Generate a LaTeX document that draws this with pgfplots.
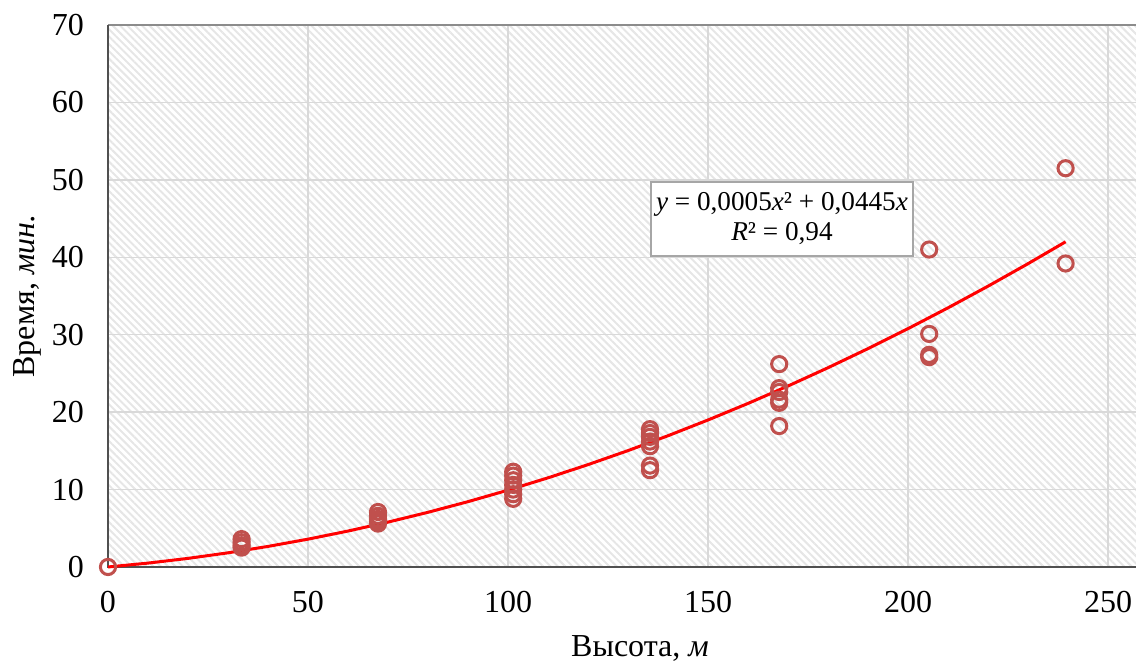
\documentclass[border=0pt]{standalone}
\usepackage{fontspec}
\setmainfont{Liberation Serif}
\usepackage{pgfplots}
\pgfplotsset{compat=1.18}
\usetikzlibrary{patterns.meta}

\definecolor{pointred}{HTML}{C0504D}
\definecolor{gridgray}{HTML}{D9D9D9}
\definecolor{hatch}{HTML}{E6E6E6}
\definecolor{axisdark}{HTML}{505050}
\definecolor{topgray}{HTML}{8C8C8C}
\definecolor{boxgray}{HTML}{A6A6A6}

\newcommand{\fs}{\fontsize{16}{19}\selectfont}
\newcommand{\eqfs}{\fontsize{13.6}{15}\selectfont}

\begin{document}
\begin{tikzpicture}
\begin{axis}[
    name=ax,
    scale only axis,
    width=514pt, height=271pt,
    xmin=0, xmax=257,
    ymin=0, ymax=70,
    xtick={0,50,...,250},
    ytick={0,10,...,70},
    xticklabels={0,50,100,150,200,250},
    yticklabels={0,10,20,30,40,50,60,70},
    grid=major,
    grid style={draw=gridgray, line width=0.75pt},
    axis line style={draw=none},
    major tick length=0pt,
    tick label style={font=\fs},
    yticklabel style={xshift=-8.5pt},
    xticklabel style={yshift=-8.5pt},
    axis background/.style={pattern={Lines[angle=-45,distance=2.6pt,line width=1pt]}, pattern color=hatch},
    xlabel={Высота, \textit{м}},
    ylabel={Время, \textit{мин.}},
    label style={font=\fs},
    xlabel style={at={(axis description cs:0.5175,-0.1513)}, anchor=center},
    ylabel style={at={(axis description cs:-0.0788,0.5)}, anchor=center},
    clip=false,
]
% axis frame as in the original: dark left/bottom, grey top, no right side
\draw[topgray, line width=1pt] (rel axis cs:0,1) -- (rel axis cs:1,1);
\draw[axisdark, line width=1.2pt] (rel axis cs:0,1) -- (rel axis cs:0,0) -- (rel axis cs:1,0);

% measured points
\addplot[only marks, mark=o, mark size=3.8pt, pointred, line width=1.5pt] coordinates {
    (0,0)
    (33.4,3.6) (33.4,3.2) (33.4,2.8) (33.4,2.5)
    (67.5,7.1) (67.5,6.6) (67.5,6.2) (67.5,5.9) (67.5,5.6)
    (101.3,12.3) (101.3,11.8) (101.3,11.2) (101.3,10.6) (101.3,10.0) (101.3,9.4) (101.3,8.8)
    (135.5,17.8) (135.5,17.3) (135.5,16.8) (135.5,16.2) (135.5,15.6) (135.5,13.1) (135.5,12.5)
    (167.8,26.2) (167.8,23.1) (167.8,22.6) (167.8,21.6) (167.8,21.2) (167.8,18.2)
    (205.3,41.0) (205.3,30.1) (205.3,27.4) (205.3,27.1)
    (239.4,51.5) (239.4,39.2)
};

% polynomial trend line
\addplot[red, line width=1.5pt, no marks] coordinates {
    (0,0) (10,0.500) (20,1.109) (30,1.827) (40,2.655) (50,3.593)
    (60,4.639) (70,5.795) (80,7.061) (90,8.436) (100,9.920)
    (110,11.514) (120,13.217) (130,15.029) (140,16.951) (150,18.983)
    (160,21.123) (170,23.373) (180,25.733) (190,28.202) (200,30.780)
    (210,33.468) (220,36.265) (230,39.171) (239.4,42.00)
};

\node[draw=boxgray, fill=white, line width=0.9pt, align=center, font=\eqfs,
      minimum width=131pt, minimum height=37pt, inner sep=2pt]
    at (axis cs:168.5,44.96)
    {\textit{y} = 0,0005\textit{x}² + 0,0445\textit{x}\\\textit{R}² = 0,94};
\end{axis}
\pgfresetboundingbox
\path[use as bounding box] ([shift={(-54pt,-48pt)}]ax.south west) rectangle ([yshift=12.5pt]ax.north east);
\end{tikzpicture}
\end{document}
